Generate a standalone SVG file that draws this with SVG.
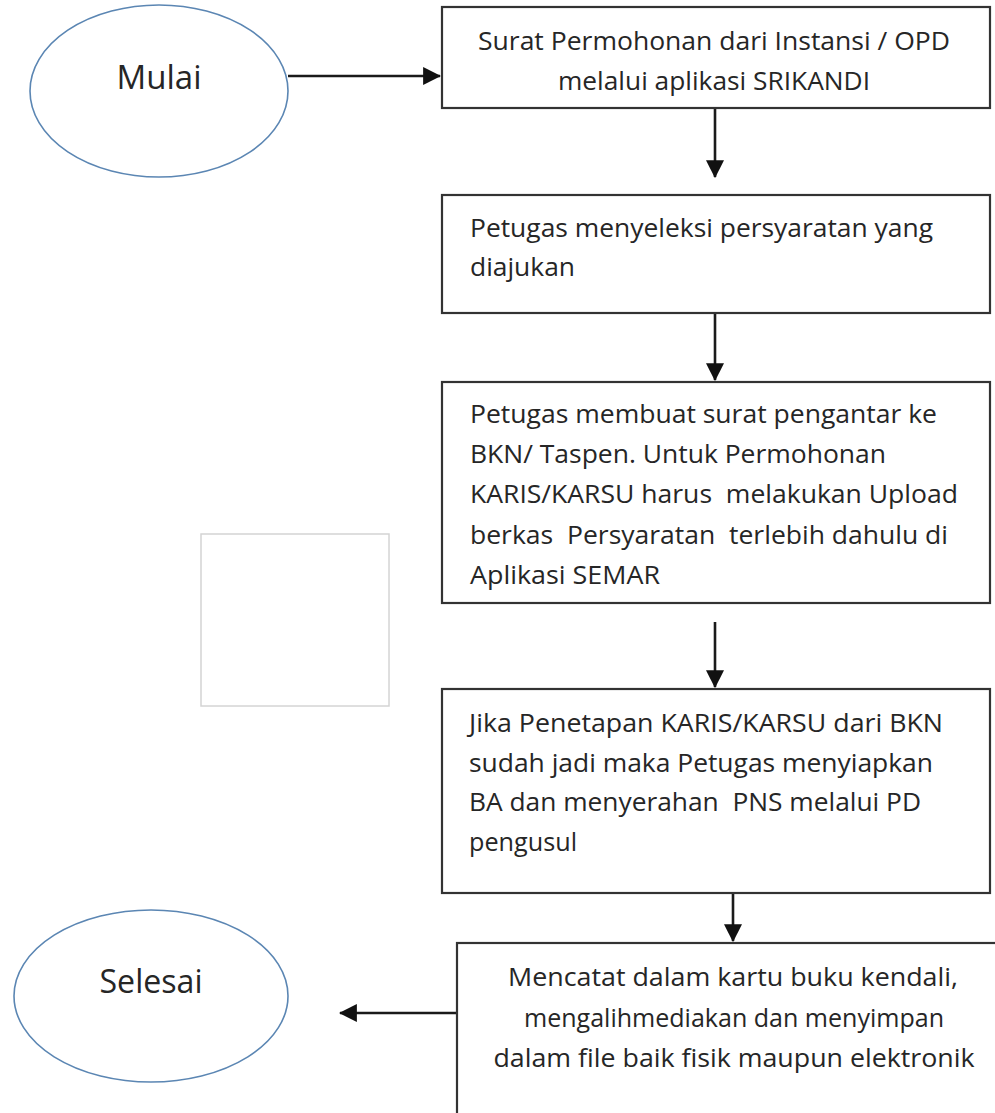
<svg xmlns="http://www.w3.org/2000/svg" width="995" height="1113" viewBox="0 0 995 1113">
<defs>
<style>
.box{fill:#fff;stroke:#333;stroke-width:2.2}
.term{fill:#fff;stroke:#5b86b3;stroke-width:1.6}
.t{font-family:"Open Sans","Noto Sans",sans-serif;font-size:25px;fill:#262626;white-space:pre}
.tc{text-anchor:middle}
.big{font-size:33px}
.conn{stroke:#1a1a1a;stroke-width:2.6;fill:none;marker-end:url(#ah)}
</style>
<marker id="ah" markerUnits="userSpaceOnUse" markerWidth="18" markerHeight="18" refX="15" refY="8" orient="auto" viewBox="0 0 16 16">
<path d="M0,0 L16,8 L0,16 Z" fill="#111"/>
</marker>
</defs>
<rect width="995" height="1113" fill="#fff"/>

<g id="blank">
<rect x="201" y="534" width="188" height="172" fill="#fff" stroke="#d4d4d4" stroke-width="1.5"/>
</g>

<g id="connectors">
<line class="conn" x1="288" y1="76" x2="440" y2="76"/>
<line class="conn" x1="715" y1="108" x2="715" y2="177"/>
<line class="conn" x1="715" y1="313" x2="715" y2="380"/>
<line class="conn" x1="715" y1="622" x2="715" y2="687"/>
<line class="conn" x1="733" y1="893" x2="733" y2="941"/>
<line class="conn" x1="457" y1="1013" x2="340" y2="1013"/>
</g>

<g id="mulai">
<ellipse class="term" cx="159" cy="91" rx="129" ry="86"/>
<text class="t tc big" x="159" y="89" textLength="85" lengthAdjust="spacingAndGlyphs">Mulai</text>
</g>

<g id="step1">
<rect class="box" x="442" y="7" width="548" height="101"/>
<text class="t tc" x="714" y="50" textLength="472" lengthAdjust="spacingAndGlyphs">Surat Permohonan dari Instansi / OPD</text>
<text class="t tc" x="714" y="90" textLength="312" lengthAdjust="spacingAndGlyphs">melalui aplikasi SRIKANDI</text>
</g>

<g id="step2">
<rect class="box" x="442" y="195" width="548" height="118"/>
<text class="t" x="470" y="237" textLength="463" lengthAdjust="spacingAndGlyphs">Petugas menyeleksi persyaratan yang</text>
<text class="t" x="470" y="276" textLength="105" lengthAdjust="spacingAndGlyphs">diajukan</text>
</g>

<g id="step3">
<rect class="box" x="442" y="382" width="548" height="221"/>
<text class="t" x="470" y="423" textLength="467" lengthAdjust="spacingAndGlyphs">Petugas membuat surat pengantar ke</text>
<text class="t" x="470" y="463" textLength="416" lengthAdjust="spacingAndGlyphs">BKN/ Taspen. Untuk Permohonan</text>
<text class="t" x="470" y="503" textLength="488" lengthAdjust="spacingAndGlyphs">KARIS/KARSU harus  melakukan Upload</text>
<text class="t" x="470" y="544" textLength="478" lengthAdjust="spacingAndGlyphs">berkas  Persyaratan  terlebih dahulu di</text>
<text class="t" x="470" y="584" textLength="190" lengthAdjust="spacingAndGlyphs">Aplikasi SEMAR</text>
</g>

<g id="step4">
<rect class="box" x="442" y="689" width="548" height="204"/>
<text class="t" x="469" y="732" textLength="474" lengthAdjust="spacingAndGlyphs">Jika Penetapan KARIS/KARSU dari BKN</text>
<text class="t" x="469" y="772" textLength="464" lengthAdjust="spacingAndGlyphs">sudah jadi maka Petugas menyiapkan</text>
<text class="t" x="469" y="811" textLength="452" lengthAdjust="spacingAndGlyphs">BA dan menyerahan  PNS melalui PD</text>
<text class="t" x="469" y="851" textLength="108" lengthAdjust="spacingAndGlyphs">pengusul</text>
</g>

<g id="step5">
<rect class="box" x="457" y="943" width="560" height="200"/>
<text class="t tc" x="733" y="986" textLength="450" lengthAdjust="spacingAndGlyphs">Mencatat dalam kartu buku kendali,</text>
<text class="t tc" x="734" y="1027" textLength="420" lengthAdjust="spacingAndGlyphs">mengalihmediakan dan menyimpan</text>
<text class="t tc" x="734" y="1067" textLength="481" lengthAdjust="spacingAndGlyphs">dalam file baik fisik maupun elektronik</text>
</g>

<g id="selesai">
<ellipse class="term" cx="151" cy="996" rx="137" ry="86"/>
<text class="t tc big" x="151" y="993" textLength="103" lengthAdjust="spacingAndGlyphs">Selesai</text>
</g>
</svg>
